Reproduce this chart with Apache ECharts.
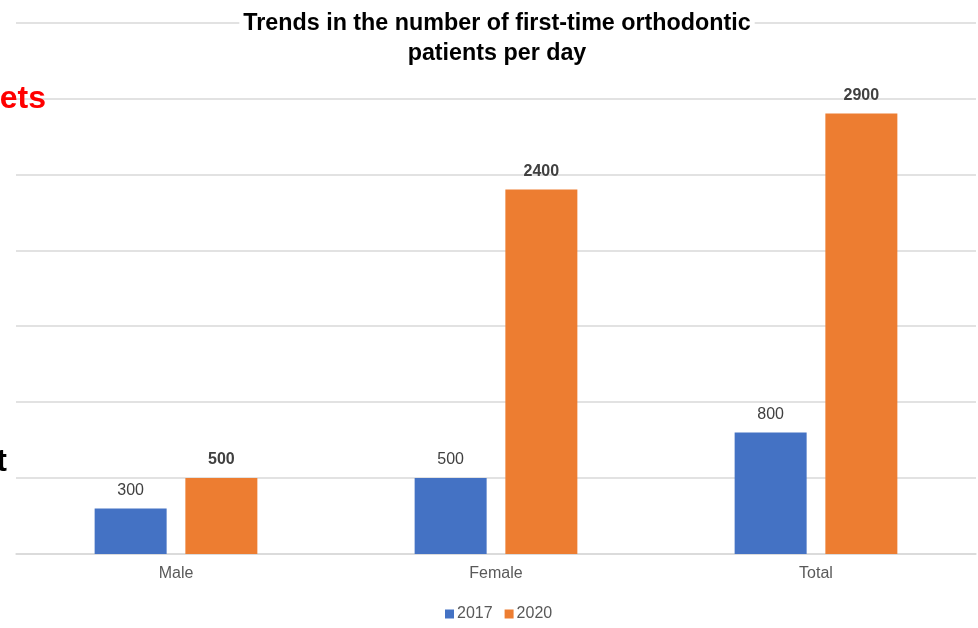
<!DOCTYPE html>
<html>
<head>
<meta charset="utf-8">
<script src="https://cdn.jsdelivr.net/npm/echarts@6/dist/echarts.min.js"></script>
<style>
  html, body { margin: 0; padding: 0; background: #fff; }
  #chart { width: 978px; height: 628px; }
</style>
</head>
<body>
<div id="chart"></div>
<script>
// Daily first-visit orthodontic patients by group
const categories = ['Male', 'Female', 'Total'];
const seriesNames = ['2017', '2020'];
const values2017 = [300, 500, 800];
const values2020 = [500, 2400, 2900];

const font = '"Liberation Sans", Arial, sans-serif';
const chart = echarts.init(document.getElementById('chart'));

chart.setOption({
  animation: false,
  backgroundColor: '#ffffff',
  title: {
    text: 'Trends in the number of first-time orthodontic\npatients per day',
    left: 493,
    top: 9,
    textAlign: 'center',
    padding: [0, 4, 0, 4],
    backgroundColor: '#ffffff',
    textStyle: {
      fontFamily: font,
      fontSize: 23.3,
      fontWeight: 'bold',
      color: '#000000',
      lineHeight: 30
    }
  },
  graphic: [
    {
      type: 'text', right: 932, top: 83, z: 10,
      style: { text: 'ets', fill: '#ff0000', font: 'bold 32px ' + font }
    },
    {
      type: 'text', right: 971, top: 446, z: 10,
      style: { text: 't', fill: '#000000', font: 'bold 32px ' + font }
    }
  ],
  legend: {
    bottom: 1,
    left: 440,
    itemWidth: 9,
    itemHeight: 9,
    itemGap: 12,
    icon: 'rect',
    textStyle: { fontFamily: font, fontSize: 16, color: '#595959', padding: [0, 0, 0, -2] },
    data: seriesNames
  },
  grid: { left: 16, right: 2, top: 22.5, bottom: 74, containLabel: false },
  xAxis: {
    type: 'category',
    data: categories,
    axisLine: { lineStyle: { color: '#d9d9d9', width: 1.5 } },
    axisTick: { show: false },
    axisLabel: { fontFamily: font, fontSize: 16, color: '#595959', margin: 12 }
  },
  yAxis: {
    type: 'value',
    min: 0,
    max: 3500,
    interval: 500,
    axisLabel: { show: false },
    axisLine: { show: false },
    axisTick: { show: false },
    splitLine: { lineStyle: { color: '#d9d9d9', width: 1.5 } }
  },
  series: [
    {
      name: seriesNames[0],
      type: 'bar',
      data: values2017,
      barWidth: 72,
      barGap: '26%',
      itemStyle: { color: '#4472c4' },
      label: {
        show: true, position: 'top', distance: 10,
        fontFamily: font, fontSize: 16, color: '#404040'
      }
    },
    {
      name: seriesNames[1],
      type: 'bar',
      data: values2020,
      barWidth: 72,
      barGap: '26%',
      itemStyle: { color: '#ed7d31' },
      label: {
        show: true, position: 'top', distance: 10,
        fontFamily: font, fontSize: 16, fontWeight: 'bold', color: '#404040'
      }
    }
  ]
});
</script>
</body>
</html>
